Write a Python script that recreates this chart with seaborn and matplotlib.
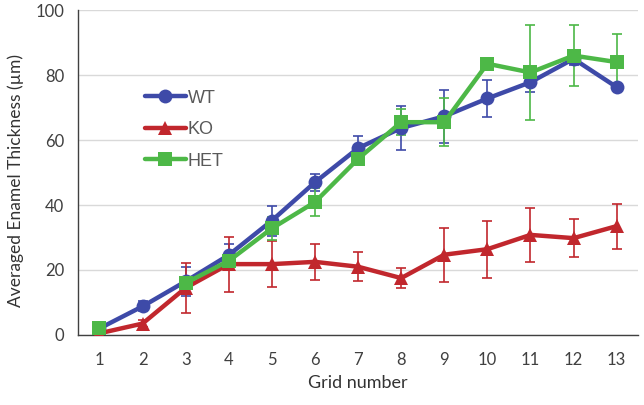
import numpy as np
import pandas as pd
import matplotlib
matplotlib.use("Agg")
import matplotlib.pyplot as plt
import seaborn as sns

# grid positions along the tooth
grids = list(range(1, 14))

# mean enamel thickness (um) per genotype
wt_mean = [2.0, 8.8, 16.5, 24.6, 35.2, 47.0, 57.5, 63.7, 67.3, 72.8, 77.8, 85.0, 76.3]
wt_err = [0.6, 1.5, 4.5, 3.4, 4.6, 2.7, 3.8, 6.9, 8.2, 5.6, 3.0, 2.0, 1.0]

ko_mean = [0.5, 3.5, 14.5, 21.8, 21.8, 22.5, 21.0, 17.5, 24.7, 26.4, 30.8, 29.8, 33.5]
ko_err = [0.5, 1.0, 7.7, 8.5, 7.0, 5.6, 4.5, 3.0, 8.3, 8.8, 8.3, 5.8, 6.9]

# HET has no value at grid 2 (line is broken there)
het_mean = [2.0, None, 16.0, 22.8, 32.8, 40.9, 54.2, 65.5, 65.5, 83.5, 80.8, 86.0, 84.0]
het_err = [0.5, None, 1.0, 1.5, 3.5, 4.3, 2.0, 4.0, 7.4, 1.5, 14.6, 9.4, 8.7]

genotypes = ["WT", "KO", "HET"]
colors = {"WT": "#3E4AA8", "KO": "#C1272D", "HET": "#4DB847"}
markers = {"WT": "o", "KO": "^", "HET": "s"}

frames = []
for g, m, e in zip(genotypes, [wt_mean, ko_mean, het_mean], [wt_err, ko_err, het_err]):
    d = pd.DataFrame({"grid": grids, "thickness": m, "err": e, "genotype": g})
    d["thickness"] = pd.to_numeric(d["thickness"])
    d["err"] = pd.to_numeric(d["err"])
    # a new segment starts after every gap so the line breaks there
    d["segment"] = d["thickness"].isna().cumsum()
    frames.append(d)
df = pd.concat(frames, ignore_index=True).dropna(subset=["thickness"])

sns.set_style("white")
plt.rcParams["font.family"] = ["Lato", "DejaVu Sans"]

fig = plt.figure(figsize=(6.44, 4.05), dpi=100)
ax = fig.add_axes([0.121, 0.173, 0.870, 0.802])

# error bars behind the lines
for g in genotypes:
    sub = df[df["genotype"] == g]
    ax.errorbar(sub["grid"], sub["thickness"], yerr=sub["err"], fmt="none",
                ecolor=colors[g], elinewidth=1.2, capsize=3.5, capthick=1.2, zorder=2)

sns.lineplot(data=df, x="grid", y="thickness", hue="genotype", style="genotype",
             units="segment", estimator=None,
             hue_order=genotypes, style_order=genotypes, palette=colors,
             markers=markers, dashes=False, linewidth=3.2, markersize=10,
             markeredgewidth=0, ax=ax, zorder=3, sort=True)

ax.set_xlim(0.5, 13.5)
ax.set_ylim(0, 100)
ax.set_yticks(range(0, 101, 20))
ax.set_xticks(grids)
ax.set_xticks(np.arange(1.5, 13.6, 1), minor=True)
ax.tick_params(axis="x", which="major", length=0, pad=12, labelsize=12, labelcolor="#404040")
ax.tick_params(axis="x", which="minor", length=5, width=1, color="#404040", direction="out")
ax.tick_params(axis="y", length=0, pad=10, labelsize=12, labelcolor="#404040")
ax.yaxis.grid(True, color="#D9D9D9", linewidth=1)
ax.set_axisbelow(True)

for side in ["top", "right"]:
    ax.spines[side].set_visible(False)
for side in ["left", "bottom"]:
    ax.spines[side].set_color("#404040")
    ax.spines[side].set_linewidth(1)

ax.set_xlabel("Grid number", fontsize=13, color="#333333", labelpad=5)
ax.set_ylabel("Averaged Enamel Thickness (\u00b5m)", fontsize=12.5, color="#333333")
ax.yaxis.set_label_coords(-0.097, 0.475)

leg = ax.legend(loc="upper left", bbox_to_anchor=(0.09, 0.805), frameon=False,
                handlelength=2.3, handletextpad=0.1, labelspacing=0.8,
                prop={"family": "Liberation Sans", "size": 13})
for t in leg.get_texts():
    t.set_color("#595959")

fig.savefig("out.png", dpi=100)
